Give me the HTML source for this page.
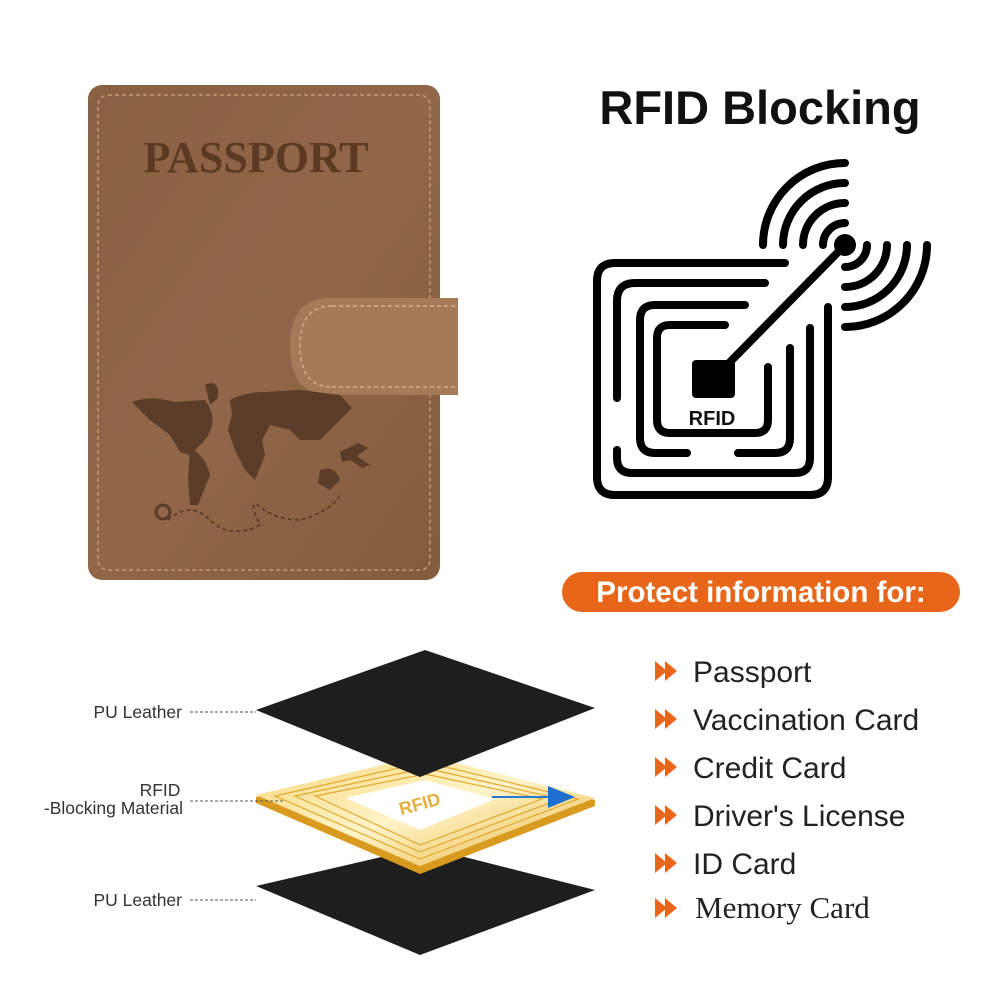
<!DOCTYPE html>
<html><head><meta charset="utf-8"><style>
html,body{margin:0;padding:0;background:#fff;}
svg{display:block;}
</style></head><body>
<svg width="1000" height="1000" viewBox="0 0 1000 1000" xmlns="http://www.w3.org/2000/svg">
<defs>
<linearGradient id="lea" x1="0" y1="0" x2="1" y2="1">
<stop offset="0" stop-color="#8a6043"/><stop offset="0.5" stop-color="#916649"/><stop offset="1" stop-color="#845c3d"/>
</linearGradient>
<linearGradient id="gold" x1="0" y1="0" x2="1" y2="1">
<stop offset="0" stop-color="#f7d77a"/><stop offset="0.5" stop-color="#fff3c8"/><stop offset="1" stop-color="#e6b43a"/>
</linearGradient>
</defs>
<rect x="88" y="85" width="352" height="495" rx="14" fill="url(#lea)"/>
<rect x="98" y="95" width="332" height="475" rx="10" fill="none" stroke="#c49a72" stroke-width="1.5" stroke-dasharray="4 3"/>
<text x="256" y="172" text-anchor="middle" font-family="Liberation Serif, serif" font-size="44" font-weight="bold" fill="#5c3a22">PASSPORT</text>
<path d="M330 298 H458 V395 H330 Q290 395 290 346 Q290 298 330 298Z" fill="#a57a58"/>
<path d="M332 306 H458 M332 387 H458 M332 306 Q300 306 300 346 Q300 387 332 387" fill="none" stroke="#d2ae88" stroke-width="1.5" stroke-dasharray="4 3"/>
<g fill="#5b3c28">
<path d="M132 402 Q150 395 175 402 L205 400 Q220 420 205 440 L190 455 L180 452 L170 435 L150 420Z"/>
<path d="M190 448 Q205 455 210 475 L198 505 L190 505 L188 480Z"/>
<path d="M205 385 Q220 378 218 398 L210 405Z"/>
<path d="M230 400 Q245 392 265 392 L300 390 L340 395 L352 408 L335 425 L320 440 L300 440 L290 430 L270 425 L262 440 L265 455 L255 480 L245 470 L235 450 L228 430 L232 415Z"/>
<path d="M320 470 Q335 465 340 480 L330 490 L318 483Z"/>
<path d="M340 452 L358 443 L368 448 L357 456 L370 465 L362 468 L350 460 L342 462Z"/>
</g>
<path d="M168 520 Q190 500 210 520 Q230 540 260 525 Q248 500 258 505 Q275 520 300 520 Q330 512 340 495" fill="none" stroke="#5b3c28" stroke-width="1.8" stroke-dasharray="4 3"/>
<circle cx="163" cy="512" r="7" fill="none" stroke="#5b3c28" stroke-width="3"/>
<text x="760" y="124" text-anchor="middle" font-family="Liberation Sans, sans-serif" font-size="47" font-weight="bold" fill="#111">RFID Blocking</text>
<g fill="none" stroke="#000" stroke-width="8" stroke-linecap="round" stroke-linejoin="round">
<path d="M785 263 H615 Q597 263 597 281 V477 Q597 495 615 495 H810 Q828 495 828 477 V307"/>
<path d="M765 283 H635 Q617 283 617 301 V398"/>
<path d="M617 450 V458 Q617 473 632 473 H795 Q810 473 810 458 V328"/>
<path d="M745 305 H655 Q640 305 640 320 V438 Q640 453 655 453 H687"/>
<path d="M738 453 H775 Q790 453 790 438 V348"/>
<path d="M725 325 H670 Q657 325 657 338 V420 Q657 433 670 433 H755 Q768 433 768 420 V367"/>
<path d="M730 362 L845 245"/>
<path d="M845 223 A22 22 0 0 0 823 245 M845 203 A42 42 0 0 0 803 245 M845 183 A62 62 0 0 0 783 245 M845 163 A82 82 0 0 0 763 245"/>
<path d="M867 245 A22 22 0 0 1 845 267 M887 245 A42 42 0 0 1 845 287 M907 245 A62 62 0 0 1 845 307 M927 245 A82 82 0 0 1 845 327"/>
</g>
<circle cx="845" cy="245" r="11" fill="#000"/>
<rect x="692" y="360" width="43" height="38" rx="4" fill="#000"/>
<text x="712" y="425" text-anchor="middle" font-family="Liberation Sans, sans-serif" font-size="20" font-weight="bold" fill="#111">RFID</text>
<rect x="562" y="572" width="398" height="40" rx="20" fill="#e8661a"/>
<text x="761" y="602" text-anchor="middle" font-family="Liberation Sans, sans-serif" font-size="29.5" font-weight="bold" fill="#fff">Protect information for:</text>
<g font-family="Liberation Sans, sans-serif" font-size="30" fill="#222">
<text x="693" y="682">Passport</text>
<text x="693" y="730">Vaccination Card</text>
<text x="693" y="778">Credit Card</text>
<text x="693" y="826">Driver's License</text>
<text x="693" y="874">ID Card</text>
<text x="695" y="918" font-family="Liberation Serif, serif" font-size="31">Memory Card</text>
</g>
<g fill="#e8661a">
<path d="M655 661 L667 671 L655 681Z M665 661 L677 671 L665 681Z"/>
<path d="M655 709 L667 719 L655 729Z M665 709 L677 719 L665 729Z"/>
<path d="M655 757 L667 767 L655 777Z M665 757 L677 767 L665 777Z"/>
<path d="M655 805 L667 815 L655 825Z M665 805 L677 815 L665 825Z"/>
<path d="M655 853 L667 863 L655 873Z M665 853 L677 863 L665 873Z"/>
<path d="M655 898 L667 908 L655 918Z M665 898 L677 908 L665 918Z"/>
</g>
<path d="M256 886 L425 847 L595 890 L420 955Z" fill="#1e1e1e"/>
<path d="M256 797 L425 757 L595 800 L595 806 L420 874 L256 803Z" fill="#d99a20"/>
<path d="M256 795 L425 755 L595 798 L420 866Z" fill="url(#gold)"/>
<g fill="none" stroke="#e2a930" stroke-width="1.2">
<path d="M275 796 L425 762 L578 799 L420 859Z"/>
<path d="M295 796 L425 768 L560 799 L420 852Z"/>
<path d="M315 796 L425 774 L542 799 L420 845Z"/>
</g>
<path d="M345 798 L425 780 L495 799 L420 830Z" fill="#fff"/>
<text x="420" y="810" text-anchor="middle" font-family="Liberation Sans, sans-serif" font-size="18" font-weight="bold" fill="#e3b040" transform="rotate(-15 420 805)">RFID</text>
<path d="M492 797 H555" stroke="#2a7ad0" stroke-width="2"/>
<path d="M548 786 L575 797 L548 808Z" fill="#1e6fd0"/>
<path d="M256 710 L425 650 L595 708 L420 777Z" fill="#1e1e1e"/>
<g font-family="Liberation Sans, sans-serif" font-size="17.5" fill="#333">
<text x="182" y="718" text-anchor="end">PU Leather</text>
<text x="160" y="796" text-anchor="middle">RFID</text>
<text x="183" y="814" text-anchor="end">-Blocking Material</text>
<text x="182" y="906" text-anchor="end">PU Leather</text>
</g>
<g stroke="#555" stroke-width="1" stroke-dasharray="3 2">
<path d="M190 712 H256"/><path d="M190 801 H285"/><path d="M190 900 H256"/>
</g>
</svg>
</body></html>
